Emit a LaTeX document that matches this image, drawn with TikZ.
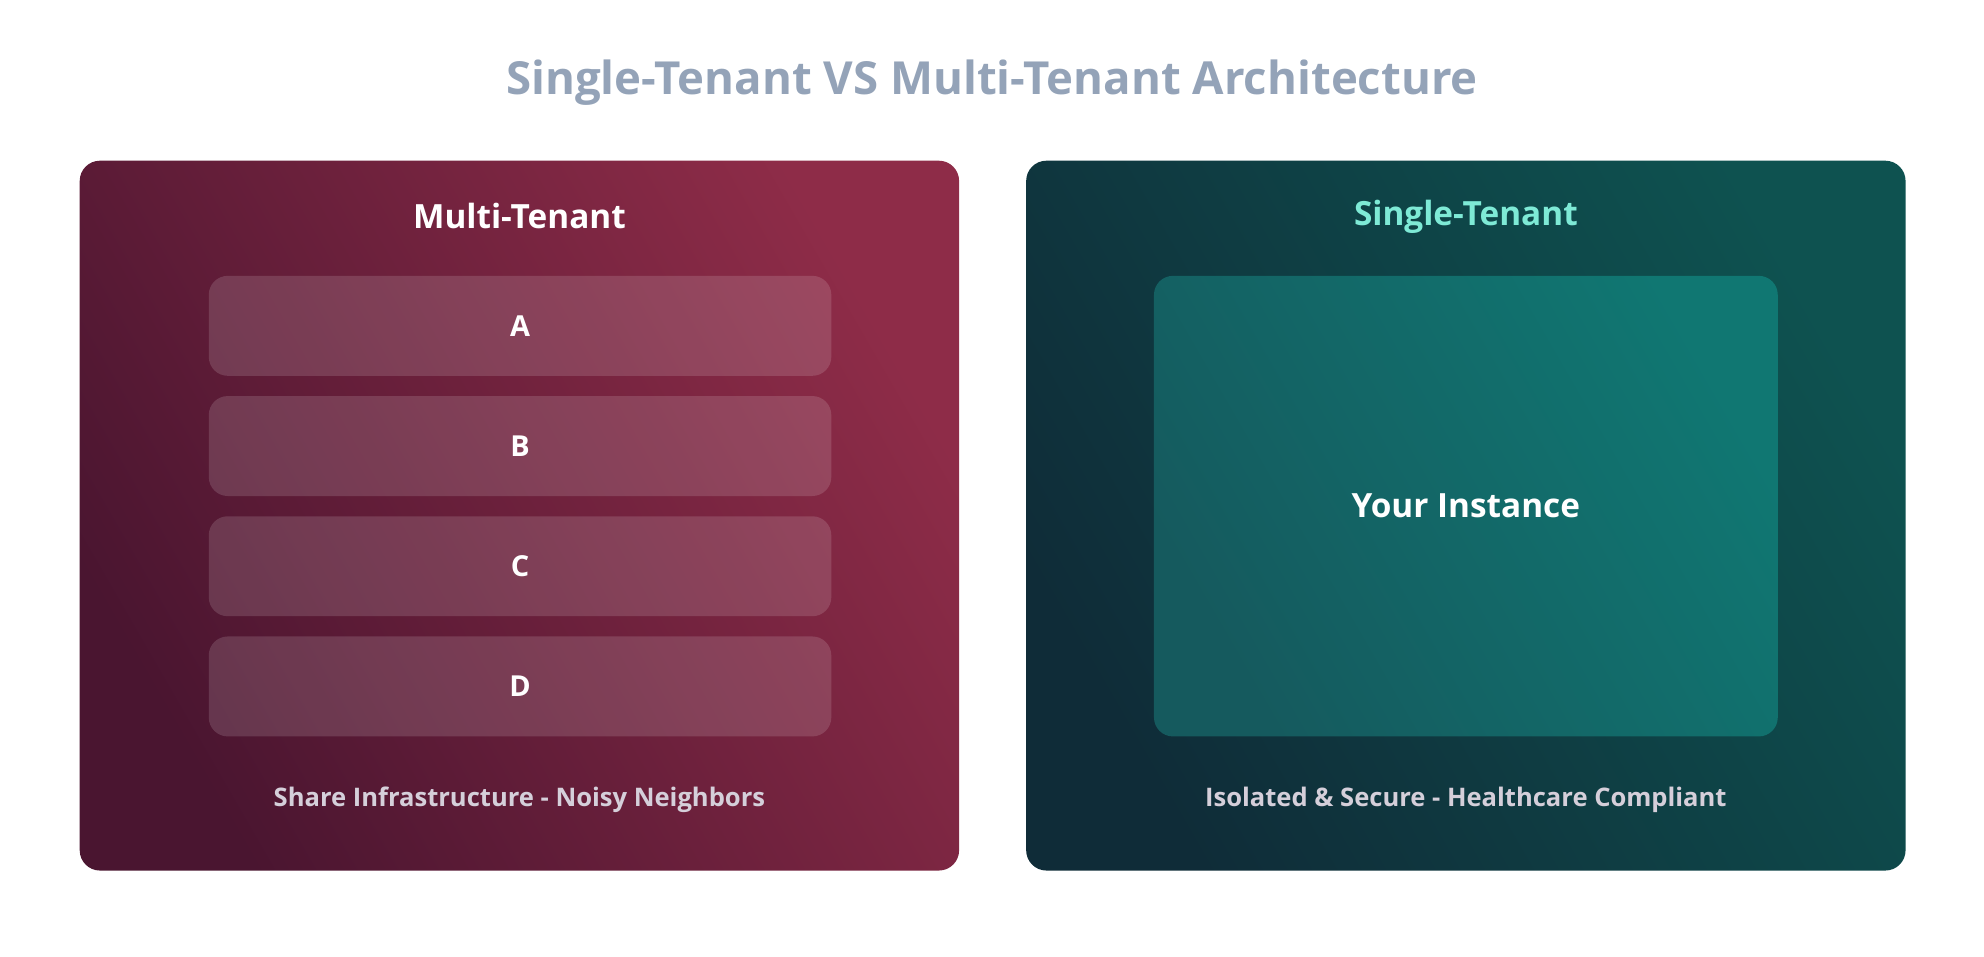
\documentclass[tikz,border=0pt]{standalone}
\usepackage{fontspec}
\setmainfont{Open Sans}
\definecolor{titlec}{HTML}{94A3B8}
\definecolor{mtA}{HTML}{4A1530}
\definecolor{mtB}{HTML}{8E2C48}
\definecolor{stA}{HTML}{0F2C38}
\definecolor{stB}{HTML}{0E5250}
\definecolor{inA}{HTML}{155A5E}
\definecolor{inB}{HTML}{107772}
\definecolor{mint}{HTML}{7EEAD6}
\definecolor{foot}{HTML}{D5CFDA}
\begin{document}
\begin{tikzpicture}[x=0.02cm,y=-0.02cm,
  panel/.style={rounded corners=0.32cm},
  tenant/.style={rounded corners=0.3cm, fill=white, fill opacity=0.14},
  lbl/.style={font=\bfseries\fontsize{13}{16}\selectfont, text=white},
  head/.style={font=\bfseries\fontsize{15}{18}\selectfont},
  footer/.style={font=\bfseries\fontsize{11.5}{14}\selectfont, text=foot}]
\useasboundingbox (0,0) rectangle (1568,755.6);
\node[font=\bfseries\fontsize{20.5}{25}\selectfont, text=titlec] (title) at (784,65) {Single-Tenant VS Multi-Tenant Architecture};
% left panel
\path[panel, left color=mtA, right color=mtB, shading angle=120] (63,127) rectangle (758,688);
\node[head, text=white] (mh) at (410.5,171) {Multi-Tenant};
\foreach \n/\y in {A/218,B/313,C/408,D/503}{
  \fill[tenant] (165,\y) rectangle (657,\y+79);
  \node[lbl] (t\n) at (411,\y+39.5) {\n};
}
\node[footer] (mf) at (410.5,632) {Share Infrastructure - Noisy Neighbors};
% right panel
\path[panel, left color=stA, right color=stB, shading angle=120] (811,127) rectangle (1506,688);
\node[head, text=mint] (sh) at (1158.5,171) {Single-Tenant};
\path[rounded corners=0.3cm, left color=inA, right color=inB, shading angle=120] (912,218) rectangle (1405,582);
\node[font=\bfseries\fontsize{15}{18}\selectfont, text=white] (inst) at (1158.5,400) {Your Instance};
\node[footer] (sf) at (1158.5,632) {Isolated \& Secure - Healthcare Compliant};
\end{tikzpicture}
\end{document}
